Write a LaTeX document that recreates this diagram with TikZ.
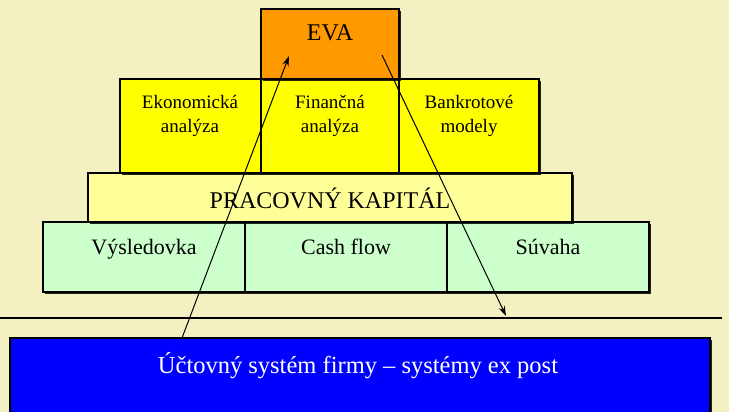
\documentclass[tikz,border=0pt]{standalone}
\usepackage{fontspec}
\setmainfont{Liberation Serif}
\usetikzlibrary{shadows,arrows.meta}
\definecolor{bgc}{RGB}{243,240,194}
\definecolor{evac}{RGB}{255,153,0}
\definecolor{yelc}{RGB}{255,255,0}
\definecolor{lyelc}{RGB}{255,255,153}
\definecolor{grnc}{RGB}{204,255,204}
\definecolor{bluc}{RGB}{0,0,255}
\begin{document}
\begin{tikzpicture}[x=1pt,y=-1pt,
  boxst/.style={draw=black,line width=1.3pt,drop shadow={shadow xshift=1.6pt,shadow yshift=-1.6pt,fill=black,opacity=0.85}},
  txt/.style={anchor=base,inner sep=0pt,align=center},
  arr/.style={line width=1pt,-{Stealth[length=10pt,width=6.5pt]}}]
\useasboundingbox[fill=bgc] (0,0) rectangle (729,412);
% rule
\coordinate (l1) at (0,318);
\coordinate (l2) at (722,318);
\draw[line width=1.3pt] (l1) -- (l2);
% boxes
\path[boxst,fill=grnc] (43,222) rectangle (649,292);
\draw[line width=1.3pt] (245,222) -- (245,292) (447,222) -- (447,292);
\path[boxst,fill=lyelc] (88,173) rectangle (572,222);
\path[boxst,fill=yelc] (120,79) rectangle (539,173);
\draw[line width=1.3pt] (261,79) -- (261,173) (399,79) -- (399,173);
\path[boxst,fill=evac] (261,9) rectangle (399,79);
\path[boxst,fill=bluc] (10,338) rectangle (710,414);
% texts
\node[txt,font=\fontsize{24}{24}\selectfont] (eva) at (330,41) {EVA};
\node[txt,font=\fontsize{19}{24}\selectfont] (eko) at (190,132) {Ekonomická\\analýza};
\node[txt,font=\fontsize{19}{24}\selectfont] (fin) at (330,132) {Finančná\\analýza};
\node[txt,font=\fontsize{19}{24}\selectfont] (ban) at (469,132) {Bankrotové\\modely};
\node[txt,font=\fontsize{24}{24}\selectfont] (pk) at (330,208) {PRACOVNÝ KAPITÁL};
\node[txt,font=\fontsize{22}{24}\selectfont] (vys) at (144,254) {Výsledovka};
\node[txt,font=\fontsize{22}{24}\selectfont] (cf) at (346,254) {Cash flow};
\node[txt,font=\fontsize{22}{24}\selectfont] (suv) at (548,254) {Súvaha};
\node[txt,font=\fontsize{24.5}{24}\selectfont,text=white] (ucs) at (358,373) {Účtovný systém firmy – systémy ex post};
% arrows
\coordinate (a1) at (182,338);
\coordinate (a2) at (289,56);
\coordinate (b1) at (382,55);
\coordinate (b2) at (506,316);
\draw[arr] (a1) -- (a2);
\draw[arr] (b1) -- (b2);
\end{tikzpicture}
\end{document}
